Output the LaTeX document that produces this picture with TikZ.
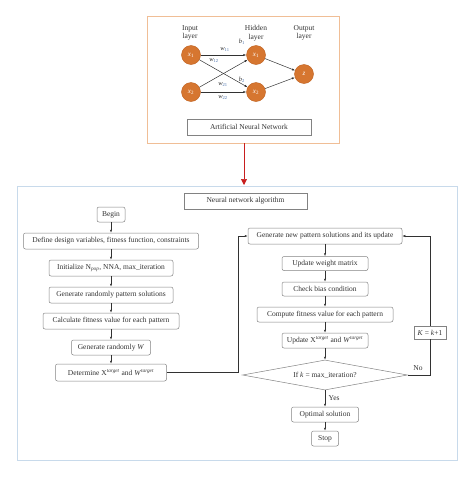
\documentclass[tikz,border=0pt]{standalone}
\usepackage{fontspec}
\setmainfont{Liberation Serif}
\usetikzlibrary{shapes.geometric,arrows.meta,positioning}
\definecolor{neuron}{RGB}{214,118,48}
\definecolor{neuronb}{RGB}{190,95,30}
\definecolor{toporange}{RGB}{240,190,150}
\definecolor{lightblue}{RGB}{200,218,235}
\definecolor{boxgray}{RGB}{130,130,130}
\definecolor{txt}{RGB}{50,50,50}
\definecolor{subblue}{RGB}{70,110,170}
\definecolor{redarrow}{RGB}{200,30,30}
\newcommand{\wsub}[2]{\textit{#1}\textsubscript{\textcolor{subblue}{#2}}}
\begin{document}
\begin{tikzpicture}[x=1pt,y=-1pt,
  every node/.style={font=\fontsize{7.5}{8.6}\selectfont, text=txt},
  fbox/.style={draw=boxgray, rounded corners=2pt, line width=0.5pt, inner sep=0pt, align=center},
  tbox/.style={draw=boxgray, line width=0.5pt, inner sep=0pt, align=center},
  neur/.style={circle, fill=neuron, draw=neuronb, line width=0.4pt, minimum size=19pt, inner sep=0pt, text=white, font=\fontsize{7}{8}\selectfont},
  conn/.style={draw=txt, line width=0.5pt, -{Latex[length=3pt,width=2.2pt]}},
  plain/.style={draw=txt, line width=0.5pt},
  wl/.style={font=\fontsize{6.5}{7}\selectfont}
]
\useasboundingbox (0,0) rectangle (474,477);
% top frame
\draw[toporange, line width=0.8pt] (147,16) rectangle (339,143);
% layer labels
\node[align=center] (li) at (190,33) {Input\\layer};
\node[align=center] (lh) at (256,33) {Hidden\\layer};
\node[align=center] (lo) at (304,33) {Output\\layer};
% neurons
\node[neur] (x1) at (191,55) {\textit{x}\textsubscript{1}};
\node[neur] (x2) at (191,92) {\textit{x}\textsubscript{2}};
\node[neur] (h1) at (256,55) {\textit{x}\textsubscript{1}};
\node[neur] (h2) at (256,92) {\textit{x}\textsubscript{2}};
\node[neur] (z) at (304,74) {\textit{z}};
\draw[conn] (x1) -- (h1);
\draw[conn] (x1) -- (h2);
\draw[conn] (x2) -- (h1);
\draw[conn] (x2) -- (h2);
\draw[conn] (h1) -- (z);
\draw[conn] (h2) -- (z);
\node[wl] (w11) at (225,50) {\wsub{w}{11}};
\node[wl] (w12) at (214,61) {\wsub{w}{12}};
\node[wl] (w21) at (223,85) {\wsub{w}{21}};
\node[wl] (w22) at (223,98) {\wsub{w}{22}};
\node[wl] (b1) at (242,42) {\wsub{b}{1}};
\node[wl] (b2) at (242,80) {\wsub{b}{2}};
\node[tbox, minimum width=124pt, minimum height=16pt] (ann) at (249,127) {Artificial Neural Network};
% red arrow
\coordinate (rs) at (244,143);
\coordinate (re) at (244,185);
\draw[redarrow, line width=0.6pt, -{Triangle[length=6pt,width=6pt]}] (rs) -- (re);
% bottom frame
\draw[lightblue, line width=0.8pt] (17,186) rectangle (457,460);
\node[tbox, minimum width=123pt, minimum height=16pt] (nna) at (245.5,201) {Neural network algorithm};
% left column
\node[fbox, minimum width=28pt, minimum height=15pt] (begin) at (111,214.5) {Begin};
\node[fbox, minimum width=175pt, minimum height=16pt] (define) at (111,241) {Define design variables, fitness function, constraints};
\node[fbox, minimum width=124pt, minimum height=16pt] (init) at (111,268) {Initialize N\textsubscript{\textit{pop}}, NNA, max\_iteration};
\node[fbox, minimum width=124pt, minimum height=16pt] (genr) at (111,295) {Generate randomly pattern solutions};
\node[fbox, minimum width=136pt, minimum height=16pt] (calc) at (111,321) {Calculate fitness value for each pattern};
\node[fbox, minimum width=79pt, minimum height=15pt] (genw) at (111,347.5) {Generate randomly \textit{W}};
\node[fbox, minimum width=111pt, minimum height=17pt] (det) at (111,372.5) {Determine X\textsuperscript{\textit{target}} and \textit{W}\textsuperscript{\textit{target}}};
\draw[conn] (begin) -- (define);
\draw[conn] (define) -- (init);
\draw[conn] (init) -- (genr);
\draw[conn] (genr) -- (calc);
\draw[conn] (calc) -- (genw);
\draw[conn] (genw) -- (det);
% right column
\node[fbox, minimum width=154pt, minimum height=16pt] (gnew) at (325,236) {Generate new pattern solutions and its update};
\node[fbox, minimum width=86pt, minimum height=14pt] (uw) at (325,263.5) {Update weight matrix};
\node[fbox, minimum width=86pt, minimum height=14pt] (cb) at (325,289) {Check bias condition};
\node[fbox, minimum width=136pt, minimum height=15pt] (comp) at (325,314.5) {Compute fitness value for each pattern};
\node[fbox, minimum width=86pt, minimum height=15pt] (ux) at (325,340.5) {Update X\textsuperscript{\textit{target}} and \textit{W}\textsuperscript{\textit{target}}};
\node[diamond, draw=boxgray, line width=0.5pt, minimum width=165pt, minimum height=30pt, inner sep=0pt, aspect=5.5] (dec) at (325,375) {If \textit{k} = max\_iteration?};
\node[fbox, minimum width=67pt, minimum height=15pt] (opt) at (325,414.5) {Optimal solution};
\node[fbox, minimum width=27pt, minimum height=15pt] (stop) at (325,438.5) {Stop};
\node[tbox, fill=white, minimum width=32pt, minimum height=13pt] (kk) at (430,332.5) {\textit{K} = \textit{k}+1};
\draw[conn] (gnew) -- (uw);
\draw[conn] (uw) -- (cb);
\draw[conn] (cb) -- (comp);
\draw[conn] (comp) -- (ux);
\draw[conn] (ux) -- (dec);
\draw[conn] (dec) -- node[right, pos=0.45] (yes) {Yes} (opt);
\draw[conn] (opt) -- (stop);
% loops
\draw[conn] (det.east) -- (238,372.5) -- (238,236) -- (gnew.west);
\draw[plain] (dec.east) -- (430,375) -- (kk.south);
\draw[conn] (kk.north) -- (430,236) -- (gnew.east);
\node (no) at (418,368) {No};
\end{tikzpicture}
\end{document}
